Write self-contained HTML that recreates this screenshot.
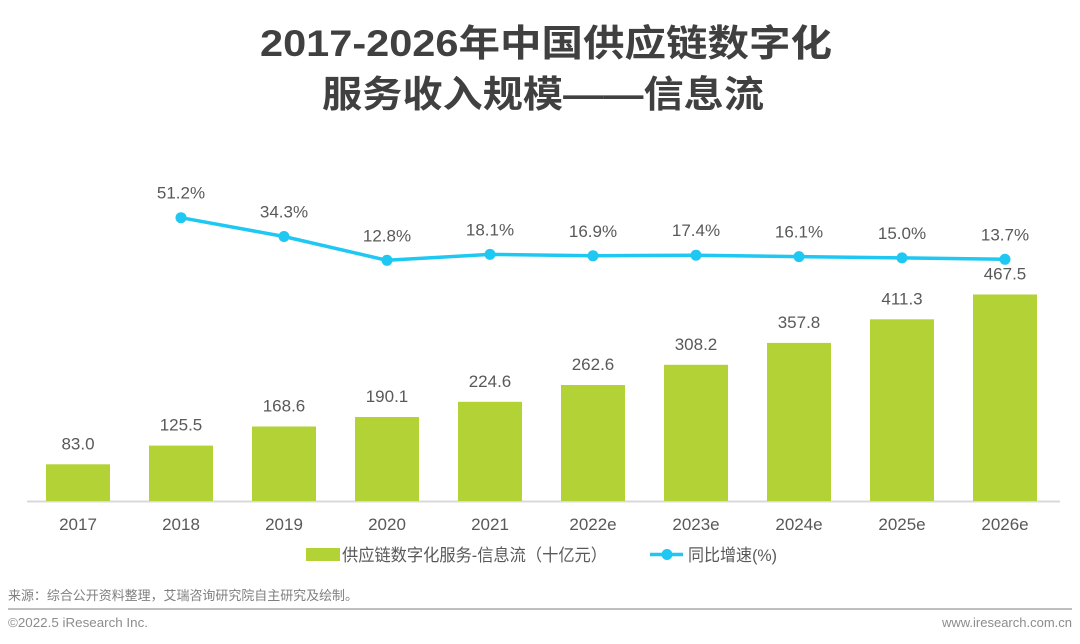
<!DOCTYPE html>
<html>
<head>
<meta charset="utf-8">
<style>
html,body{margin:0;padding:0;background:#fff;}
svg{display:block;}
</style>
</head>
<body>
<svg width="1080" height="644" viewBox="0 0 1080 644" xmlns="http://www.w3.org/2000/svg">
<rect width="1080" height="644" fill="#fff"/>
<!-- Title -->
<g font-family="'Liberation Sans','Noto Sans CJK SC',sans-serif" font-weight="bold" font-size="37" fill="#404040">
<text x="260" y="56" textLength="572" lengthAdjust="spacingAndGlyphs">2017-2026年中国供应链数字化</text>
<text x="322" y="107" textLength="442" lengthAdjust="spacingAndGlyphs">服务收入规模——信息流</text>
</g>

<!-- axis -->
<line x1="27" y1="501.5" x2="1060" y2="501.5" stroke="#d9d9d9" stroke-width="2"/>

<!-- bars -->
<g fill="#b2d235">
<rect x="46" y="464.3" width="64" height="36.7"/>
<rect x="149" y="445.6" width="64" height="55.4"/>
<rect x="252" y="426.5" width="64" height="74.5"/>
<rect x="355" y="417.0" width="64" height="84.0"/>
<rect x="458" y="401.8" width="64" height="99.2"/>
<rect x="561" y="385.0" width="64" height="116.0"/>
<rect x="664" y="364.8" width="64" height="136.2"/>
<rect x="767" y="342.9" width="64" height="158.1"/>
<rect x="870" y="319.3" width="64" height="181.7"/>
<rect x="973" y="294.5" width="64" height="206.5"/>
</g>

<!-- bar labels -->
<g font-family="'Liberation Sans',sans-serif" font-size="17" fill="#595959" text-anchor="middle">
<text x="78" y="449.3">83.0</text>
<text x="181" y="430.6">125.5</text>
<text x="284" y="411.5">168.6</text>
<text x="387" y="402">190.1</text>
<text x="490" y="386.8">224.6</text>
<text x="593" y="370">262.6</text>
<text x="696" y="349.8">308.2</text>
<text x="799" y="327.9">357.8</text>
<text x="902" y="304.3">411.3</text>
<text x="1005" y="279.5">467.5</text>
</g>

<!-- line -->
<polyline fill="none" stroke="#1ec8f2" stroke-width="3.5" stroke-linejoin="round"
 points="181,217.7 284,236.5 387,260.3 490,254.4 593,255.8 696,255.2 799,256.6 902,257.9 1005,259.3"/>
<g fill="#1ec8f2">
<circle cx="181" cy="217.7" r="5.5"/>
<circle cx="284" cy="236.5" r="5.5"/>
<circle cx="387" cy="260.3" r="5.5"/>
<circle cx="490" cy="254.4" r="5.5"/>
<circle cx="593" cy="255.8" r="5.5"/>
<circle cx="696" cy="255.2" r="5.5"/>
<circle cx="799" cy="256.6" r="5.5"/>
<circle cx="902" cy="257.9" r="5.5"/>
<circle cx="1005" cy="259.3" r="5.5"/>
</g>

<!-- line labels -->
<g font-family="'Liberation Sans',sans-serif" font-size="17" fill="#595959" text-anchor="middle">
<text x="181" y="198.7">51.2%</text>
<text x="284" y="217.5">34.3%</text>
<text x="387" y="241.3">12.8%</text>
<text x="490" y="235.4">18.1%</text>
<text x="593" y="236.8">16.9%</text>
<text x="696" y="236.2">17.4%</text>
<text x="799" y="237.6">16.1%</text>
<text x="902" y="238.9">15.0%</text>
<text x="1005" y="240.3">13.7%</text>
</g>

<!-- x labels -->
<g font-family="'Liberation Sans',sans-serif" font-size="17" fill="#595959" text-anchor="middle">
<text x="78" y="530">2017</text>
<text x="181" y="530">2018</text>
<text x="284" y="530">2019</text>
<text x="387" y="530">2020</text>
<text x="490" y="530">2021</text>
<text x="593" y="530">2022e</text>
<text x="696" y="530">2023e</text>
<text x="799" y="530">2024e</text>
<text x="902" y="530">2025e</text>
<text x="1005" y="530">2026e</text>
</g>

<!-- legend -->
<rect x="306" y="548" width="34" height="13" fill="#b2d235"/>
<text x="342" y="561" font-family="'Liberation Sans','Noto Sans CJK SC',sans-serif" font-size="17" fill="#595959" textLength="265" lengthAdjust="spacingAndGlyphs">供应链数字化服务-信息流（十亿元）</text>
<line x1="650" y1="554.5" x2="683" y2="554.5" stroke="#1ec8f2" stroke-width="3.5"/>
<circle cx="667" cy="554.5" r="5.5" fill="#1ec8f2"/>
<text x="688" y="561" font-family="'Liberation Sans','Noto Sans CJK SC',sans-serif" font-size="17" fill="#595959" textLength="89" lengthAdjust="spacingAndGlyphs">同比增速(%)</text>

<!-- footer -->
<text x="8" y="600" font-family="'Liberation Sans','Noto Sans CJK SC',sans-serif" font-size="13" fill="#7f7f7f" textLength="350" lengthAdjust="spacingAndGlyphs">来源：综合公开资料整理，艾瑞咨询研究院自主研究及绘制。</text>
<line x1="8" y1="609" x2="1072" y2="609" stroke="#bfbfbf" stroke-width="2"/>
<text x="8" y="627" font-family="'Liberation Sans',sans-serif" font-size="13" fill="#8c8c8c" textLength="140" lengthAdjust="spacingAndGlyphs">©2022.5 iResearch Inc.</text>
<text x="1072" y="627" font-family="'Liberation Sans',sans-serif" font-size="13" fill="#8c8c8c" text-anchor="end">www.iresearch.com.cn</text>
</svg>
</body>
</html>
